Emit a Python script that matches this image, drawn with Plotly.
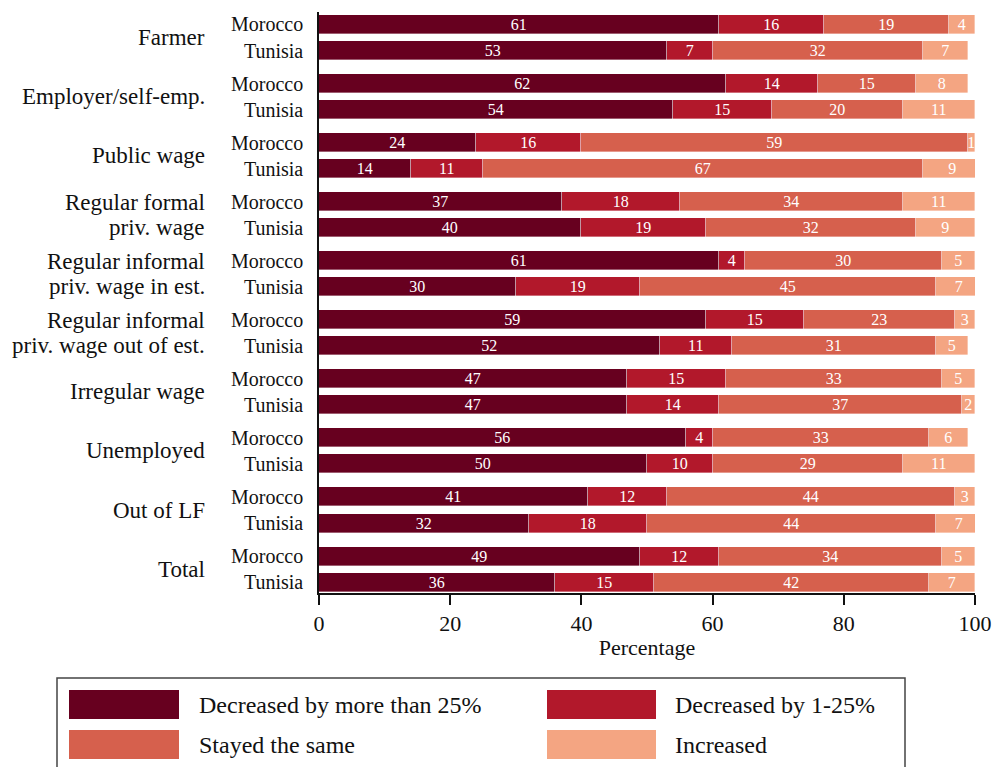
import plotly.graph_objects as go

# ---------------- data ----------------
groups = ["Farmer", "Employer/self-emp.", "Public wage", "Regular formal<br>priv. wage",
          "Regular informal<br>priv. wage in est.", "Regular informal<br>priv. wage out of est.",
          "Irregular wage", "Unemployed", "Out of LF", "Total"]
countries = ["Morocco", "Tunisia"]
categories = ["Decreased by more than 25%", "Decreased by 1-25%", "Stayed the same", "Increased"]
colors = ["#67001f", "#b2182b", "#d6604d", "#f4a582"]

morocco_dec25 = [61, 62, 24, 37, 61, 59, 47, 56, 41, 49]
morocco_dec1 = [16, 14, 16, 18, 4, 15, 15, 4, 12, 12]
morocco_same = [19, 15, 59, 34, 30, 23, 33, 33, 44, 34]
morocco_inc = [4, 8, 1, 11, 5, 3, 5, 6, 3, 5]

tunisia_dec25 = [53, 54, 14, 40, 30, 52, 47, 50, 32, 36]
tunisia_dec1 = [7, 15, 11, 19, 19, 11, 14, 10, 18, 15]
tunisia_same = [32, 20, 67, 32, 45, 31, 37, 29, 44, 42]
tunisia_inc = [7, 11, 9, 9, 7, 5, 2, 11, 7, 7]

morocco = [morocco_dec25, morocco_dec1, morocco_same, morocco_inc]
tunisia = [tunisia_dec25, tunisia_dec1, tunisia_same, tunisia_inc]

# ---------------- layout helpers ----------------
W, H = 997, 767  # page size
PL, PR, PT, PB = 319, 975, 12, 593  # plot area in page pixels
PW, PH = PR - PL, PB - PT
GROUP_STEP = 2.27
SERIF = "Liberation Serif"

pos = []
ticktext = []
for i in range(len(groups)):
    for j, c in enumerate(countries):
        pos.append(i * GROUP_STEP + j)
        ticktext.append(c)

def px_x(px):
    return (px - PL) / PW

def px_y(py):
    return (PB - py) / PH

fig = go.Figure()
for k, cat in enumerate(categories):
    vals = []
    for i in range(len(groups)):
        vals.append(morocco[k][i])
        vals.append(tunisia[k][i])
    fig.add_trace(go.Bar(
        x=vals, y=pos, orientation="h", name=cat,
        marker=dict(color=colors[k], line=dict(color="rgba(255,255,255,0.6)", width=0.6)),
        width=0.73,
        text=[str(v) for v in vals], textposition="inside", insidetextanchor="middle",
        textangle=0,
        textfont=dict(family=SERIF, size=16, color="white"),
        showlegend=False, hoverinfo="x+name",
    ))

annotations = []
for i, g in enumerate(groups):
    lines = g.split("<br>")
    n = len(lines)
    for li, line in enumerate(lines):
        annotations.append(dict(
            x=0, xref="paper", y=i * GROUP_STEP + 0.5, yref="y",
            xanchor="right", yanchor="middle", xshift=-112,
            yshift=-(li - (n - 1) / 2) * 25,
            text=line, showarrow=False, font=dict(family=SERIF, size=23, color="#111"),
        ))

# manual legend (large swatches)
shapes = [dict(type="rect", xref="paper", yref="paper",
               x0=px_x(57), x1=px_x(905), y0=px_y(800), y1=px_y(678),
               line=dict(color="#444", width=1.5), fillcolor="white", layer="below")]
leg_cols = [(69, 179, 197), (547, 656, 673)]
leg_rows = [(690, 719), (730, 759)]
order = [(0, 0), (0, 1), (1, 0), (1, 1)]  # (row, col) for each category
for k, cat in enumerate(categories):
    r, c = order[k]
    sx0, sx1, tx = leg_cols[c]
    sy0, sy1 = leg_rows[r]
    shapes.append(dict(type="rect", xref="paper", yref="paper",
                       x0=px_x(sx0), x1=px_x(sx1), y0=px_y(sy1), y1=px_y(sy0),
                       line=dict(width=0), fillcolor=colors[k]))
    annotations.append(dict(x=px_x(tx), xref="paper", y=px_y((sy0 + sy1) / 2), yref="paper",
                            xanchor="left", yanchor="middle", text=cat, showarrow=False,
                            font=dict(family=SERIF, size=24, color="#111")))

fig.update_layout(
    width=W, height=H,
    margin=dict(l=PL, r=W - PR, t=PT, b=H - PB, autoexpand=False),
    barmode="stack", bargap=0,
    plot_bgcolor="white", paper_bgcolor="white",
    uniformtext=dict(minsize=16, mode="show"),
    annotations=annotations, shapes=shapes,
    font=dict(family=SERIF, color="#111"),
    xaxis=dict(range=[0, 100], tickvals=[0, 20, 40, 60, 80, 100],
               showline=True, linecolor="#111", linewidth=1.5,
               ticks="outside", ticklen=10, tickwidth=1.5, tickcolor="#111",
               showgrid=False, zeroline=False,
               tickfont=dict(family=SERIF, size=22, color="#111"),
               title=dict(text="Percentage", font=dict(family=SERIF, size=22, color="#111"), standoff=4)),
    yaxis=dict(range=[pos[-1] + 0.42, -0.48], tickvals=pos, ticktext=ticktext,
               showline=True, linecolor="#111", linewidth=1.5,
               ticks="", showgrid=False, zeroline=False, ticklabelstandoff=10,
               tickfont=dict(family=SERIF, size=20, color="#111")),
)

fig.write_html("out.html",
               config={"displayModeBar": False},
               post_script="document.body.style.margin='0';document.body.style.overflow='hidden';")
